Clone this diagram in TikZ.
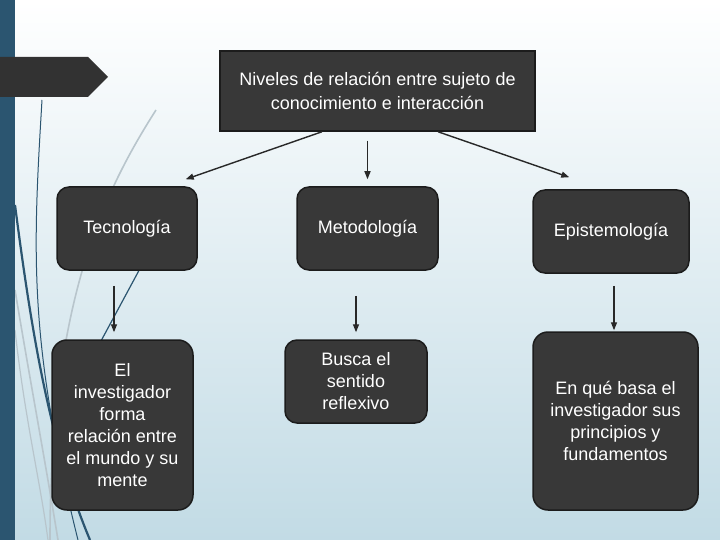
\documentclass[tikz,border=0pt]{standalone}
\usepackage{fontspec}
\setmainfont{Liberation Sans}
\usetikzlibrary{arrows.meta,calc}
\definecolor{barblue}{RGB}{43,85,112}
\definecolor{boxfill}{RGB}{56,56,56}
\definecolor{boxline}{RGB}{28,28,28}
\definecolor{arrc}{RGB}{40,40,40}
\definecolor{bgblue}{RGB}{194,219,229}
\definecolor{bgmid}{RGB}{228,238,243}
\definecolor{decogray}{RGB}{184,197,204}
\definecolor{tabfill}{RGB}{50,50,50}
\begin{document}
\begin{tikzpicture}[x=1pt,y=-1pt,
  box/.style={draw=boxline, line width=1.5pt, fill=boxfill, text=white,
    rounded corners=12pt, align=center, inner sep=0pt,
    font=\fontsize{18}{22}\selectfont},
  titlebox/.style={box, rounded corners=0pt, font=\fontsize{18}{24}\selectfont},
  arr/.style={draw=arrc, line width=1.4pt, -{Triangle[length=8pt,width=6pt]}},
  decodark/.style={draw=barblue, line width=#1},
  decolight/.style={draw=decogray, line width=#1}]
\useasboundingbox (0,0) rectangle (720,540);
% background
\shade[top color=white, middle color=bgmid, bottom color=bgblue] (0,0) rectangle (720,540);
% decorative lines
\draw[decolight=1.6pt] (156,110) .. controls (105,190) and (50,300) .. (50,540);
\draw[decolight=1.6pt] (15,290) .. controls (30,380) and (45,460) .. (58,540);
\draw[decolight=1.2pt] (15,330) .. controls (25,420) and (40,480) .. (48,540);
\draw[decodark=1pt] (42,100) .. controls (33,250) and (28,340) .. (78,540);
\draw[decodark=2.2pt] (15,205) .. controls (30,320) and (48,440) .. (90,540);
\draw[decodark=1.2pt] (150,250) -- (80,380);
% left bar and tab
\fill[barblue] (0,0) rectangle (15,540);
\fill[tabfill] (0,57) -- (88,57) -- (108,77) -- (88,97) -- (0,97) -- cycle;
% boxes
\node[titlebox, minimum width=315pt, minimum height=80pt] (title) at (377.5,91)
  {Niveles de relación entre sujeto de\\conocimiento e interacción};
\node[box, minimum width=140pt, minimum height=83pt] (tec) at (127,228.5) {Tecnología};
\node[box, minimum width=141pt, minimum height=83pt] (met) at (367.5,228.5) {Metodología};
\node[box, minimum width=156pt, minimum height=83pt] (epi) at (611,231.5) {Epistemología};
\node[box, rounded corners=15pt, minimum width=141pt, minimum height=170pt] (b1) at (122.5,425)
  {El\\investigador\\forma\\relación entre\\el mundo y su\\mente};
\node[box, minimum width=142pt, minimum height=83pt] (b2) at (356,381.5)
  {Busca el\\sentido\\reflexivo};
\node[box, rounded corners=15pt, minimum width=165pt, minimum height=178pt] (b3) at (615.5,421)
  {En qué basa el\\investigador sus\\principios y\\fundamentos};
% connectors
\draw[arr] ([xshift=-55.5pt]title.south) -- ([xshift=-12pt,yshift=7pt]tec.north east);
\draw[arr, shorten <=9pt, shorten >=7pt] (title.south -| met.north) -- (met.north);
\draw[arr] ([xshift=60.5pt]title.south) -- ([xshift=37pt,yshift=12pt]epi.north west);
\draw[arr, shorten <=15pt, shorten >=7pt] ([xshift=-13pt]tec.south) -- ([xshift=-8.5pt]b1.north);
\draw[arr, shorten <=25pt, shorten >=7pt] ([xshift=-11.5pt]met.south) -- (b2.north);
\draw[arr, shorten <=12pt, shorten >=1pt] ([xshift=3pt]epi.south) -- ([xshift=-1.5pt]b3.north);
\end{tikzpicture}
\end{document}
